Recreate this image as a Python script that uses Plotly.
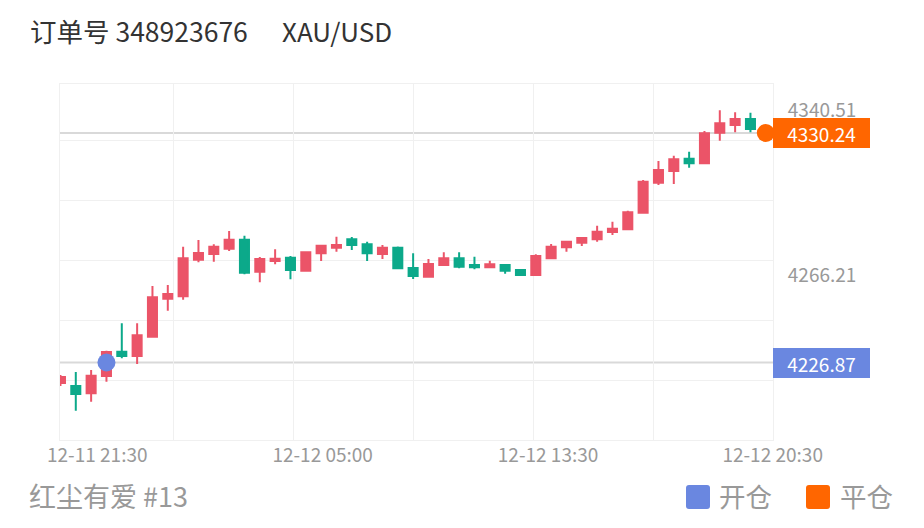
import plotly.graph_objects as go

# ---------------- data ----------------
idx = list(range(46))
opens = [4217.64, 4216.29, 4213.00, 4220.79, 4231.74, 4229.80, 4238.49, 4255.61, 4256.69, 4273.17,
         4275.74, 4278.13, 4282.18, 4267.77, 4272.59, 4274.07, 4268.22, 4276.06, 4278.58, 4282.36,
         4280.11, 4275.74, 4278.58, 4269.43, 4265.52, 4270.79, 4273.80, 4270.79, 4269.75, 4270.79,
         4268.53, 4266.28, 4273.80, 4278.76, 4280.83, 4282.36, 4285.65, 4286.87, 4294.34, 4307.85,
         4313.12, 4318.66, 4316.59, 4330.38, 4333.84, 4336.55]
highs = [4221.24, 4222.59, 4223.49, 4232.19, 4244.53, 4244.53, 4261.33, 4261.78, 4279.03, 4282.05,
         4280.11, 4286.10, 4283.98, 4274.39, 4277.86, 4274.84, 4276.78, 4279.79, 4283.53, 4283.40,
         4281.28, 4279.79, 4279.12, 4276.06, 4273.49, 4276.51, 4276.51, 4274.52, 4272.72, 4271.01,
         4268.76, 4275.60, 4280.24, 4281.73, 4283.08, 4288.49, 4290.29, 4295.24, 4309.07, 4317.63,
         4320.02, 4321.82, 4331.14, 4340.51, 4339.60, 4339.40]
lows = [4216.29, 4205.16, 4209.21, 4218.22, 4228.76, 4226.20, 4238.04, 4250.20, 4255.16, 4272.00,
        4272.27, 4277.09, 4266.60, 4262.99, 4271.10, 4264.35, 4267.77, 4272.59, 4276.78, 4277.54,
        4272.59, 4273.49, 4268.98, 4264.48, 4265.07, 4270.56, 4269.30, 4268.85, 4269.30, 4266.87,
        4266.06, 4265.83, 4273.58, 4276.78, 4279.34, 4281.28, 4284.30, 4286.55, 4294.07, 4306.82,
        4307.27, 4314.61, 4316.37, 4326.77, 4330.56, 4330.56]
closes = [4220.34, 4212.68, 4220.93, 4231.60, 4229.80, 4239.12, 4256.24, 4257.72, 4273.80, 4276.19,
          4279.03, 4282.18, 4267.32, 4273.49, 4273.62, 4268.53, 4276.51, 4279.48, 4279.79, 4279.79,
          4276.06, 4278.58, 4269.30, 4265.83, 4271.24, 4273.80, 4270.02, 4269.75, 4271.10, 4268.22,
          4266.28, 4274.84, 4279.03, 4281.28, 4282.95, 4285.78, 4287.14, 4294.52, 4308.31, 4313.57,
          4318.39, 4316.59, 4330.10, 4334.61, 4336.55, 4332.04]

open_idx, open_price = 3, 4226.87
close_idx, close_price = 46, 4330.24

x_tick_pos = [2.4, 17.1, 31.8, 46.45]
x_tick_text = ["12-11 21:30", "12-12 05:00", "12-12 13:30", "12-12 20:30"]
y_tick_vals = [4340.51, 4266.21]
y_tick_text = ["4340.51", "4266.21"]

order_text = "订单号 348923676"
symbol_text = "XAU/USD"
user_text = "红尘有爱 #13"
legend_open = "开仓"
legend_close = "平仓"

# ---------------- style ----------------
RED = "#EB5468"
GREEN = "#0CA98A"
BLUE = "#6A87E0"
ORANGE = "#FF6600"
GRAY_TXT = "#999999"
GRID = "#F0F0F0"
FONT = "Noto Sans CJK SC, Noto Sans, sans-serif"

x_grid = [7.35, 15.18, 23.01, 30.84, 38.67]
y_grid = [4218.99, 4246.01, 4273.04, 4300.06, 4327.09]
x_range = [-0.03, 46.47]
y_range = [4191.97, 4352.31]

fig = go.Figure()
fig.add_trace(go.Candlestick(
    x=idx, open=opens, high=highs, low=lows, close=closes,
    increasing=dict(line=dict(color=RED, width=2), fillcolor=RED),
    decreasing=dict(line=dict(color=GREEN, width=2), fillcolor=GREEN),
    whiskerwidth=0, showlegend=False, hoverinfo="skip",
))
fig.add_trace(go.Scatter(
    x=[open_idx], y=[open_price], mode="markers",
    marker=dict(size=18, color=BLUE), cliponaxis=False, showlegend=False, hoverinfo="skip"))
fig.add_trace(go.Scatter(
    x=[close_idx], y=[close_price], mode="markers",
    marker=dict(size=18, color=ORANGE), cliponaxis=False, showlegend=False, hoverinfo="skip"))

shapes = []
for price in (open_price, close_price):
    shapes.append(dict(type="line", xref="paper", x0=0, x1=1, yref="y", y0=price, y1=price,
                       line=dict(color="#D9D9D9", width=2), layer="below"))


def rrect(x0, x1, y0, y1, r=3):
    return (f"M{x0+r},{y0} L{x1-r},{y0} Q{x1},{y0} {x1},{y0+r} L{x1},{y1-r} Q{x1},{y1} {x1-r},{y1} "
            f"L{x0+r},{y1} Q{x0},{y1} {x0},{y1-r} L{x0},{y0+r} Q{x0},{y0} {x0+r},{y0} Z")


for color, (px0, px1) in ((BLUE, (-87, -63)), (ORANGE, (33, 57))):
    shapes.append(dict(type="path", xref="paper", yref="paper", xsizemode="pixel", ysizemode="pixel",
                       xanchor=1, yanchor=0, path=rrect(px0, px1, -69, -45),
                       fillcolor=color, line=dict(width=0)))

annotations = [
    dict(text=order_text, x=0, xref="paper", xanchor="left", xshift=-32,
         y=1, yref="paper", yanchor="middle", yshift=54, showarrow=False,
         font=dict(size=26.5, color="#333333", family=FONT)),
    dict(text=symbol_text, x=0, xref="paper", xanchor="left", xshift=220,
         y=1, yref="paper", yanchor="middle", yshift=54, showarrow=False,
         font=dict(size=26, color="#333333", family=FONT)),
    dict(text=user_text, x=0, xref="paper", xanchor="left", xshift=-33,
         y=0, yref="paper", yanchor="middle", yshift=-55, showarrow=False,
         font=dict(size=27, color=GRAY_TXT, family=FONT)),
    dict(text=legend_open, x=1, xref="paper", xanchor="left", xshift=-56,
         y=0, yref="paper", yanchor="middle", yshift=-55, showarrow=False,
         font=dict(size=26.5, color=GRAY_TXT, family=FONT)),
    dict(text=legend_close, x=1, xref="paper", xanchor="left", xshift=65,
         y=0, yref="paper", yanchor="middle", yshift=-55, showarrow=False,
         font=dict(size=26.5, color=GRAY_TXT, family=FONT)),
]
for price, color in ((close_price, ORANGE), (open_price, BLUE)):
    annotations.append(dict(text=f"{price:.2f}", x=1, xref="paper", xanchor="left",
                            y=price, yref="y", yanchor="middle", showarrow=False,
                            width=95, height=28, borderpad=0, borderwidth=1, bordercolor=color,
                            bgcolor=color, align="center",
                            font=dict(size=19, color="white", family=FONT)))

# page body has an 8px margin, so the figure is 8px smaller than the window on each axis
fig.update_layout(
    width=916, height=520,
    margin=dict(l=52, r=151, t=76, b=88),
    paper_bgcolor="white", plot_bgcolor="white",
    font=dict(family=FONT),
    boxgap=0.41, boxgroupgap=0,
    showlegend=False,
    shapes=shapes, annotations=annotations,
    xaxis=dict(range=x_range, tickmode="array", tickvals=x_tick_pos, ticktext=x_tick_text,
               showgrid=False, zeroline=False, showline=True, mirror=True, linecolor=GRID, linewidth=1,
               ticks="", ticklabelstandoff=-2,
               tickfont=dict(size=19, color=GRAY_TXT, family=FONT),
               minor=dict(tickmode="array", tickvals=x_grid, showgrid=True, gridcolor=GRID, gridwidth=1,
                          ticks=""),
               rangeslider=dict(visible=False), fixedrange=True),
    yaxis=dict(range=y_range, side="right", tickmode="array", tickvals=y_tick_vals, ticktext=y_tick_text,
               showgrid=False, zeroline=False, showline=True, mirror=True, linecolor=GRID, linewidth=1,
               ticks="", ticklabelstandoff=10,
               tickfont=dict(size=19, color=GRAY_TXT, family=FONT),
               minor=dict(tickmode="array", tickvals=y_grid, showgrid=True, gridcolor=GRID, gridwidth=1,
                          ticks=""),
               fixedrange=True),
)

fig.write_html("out.html")
